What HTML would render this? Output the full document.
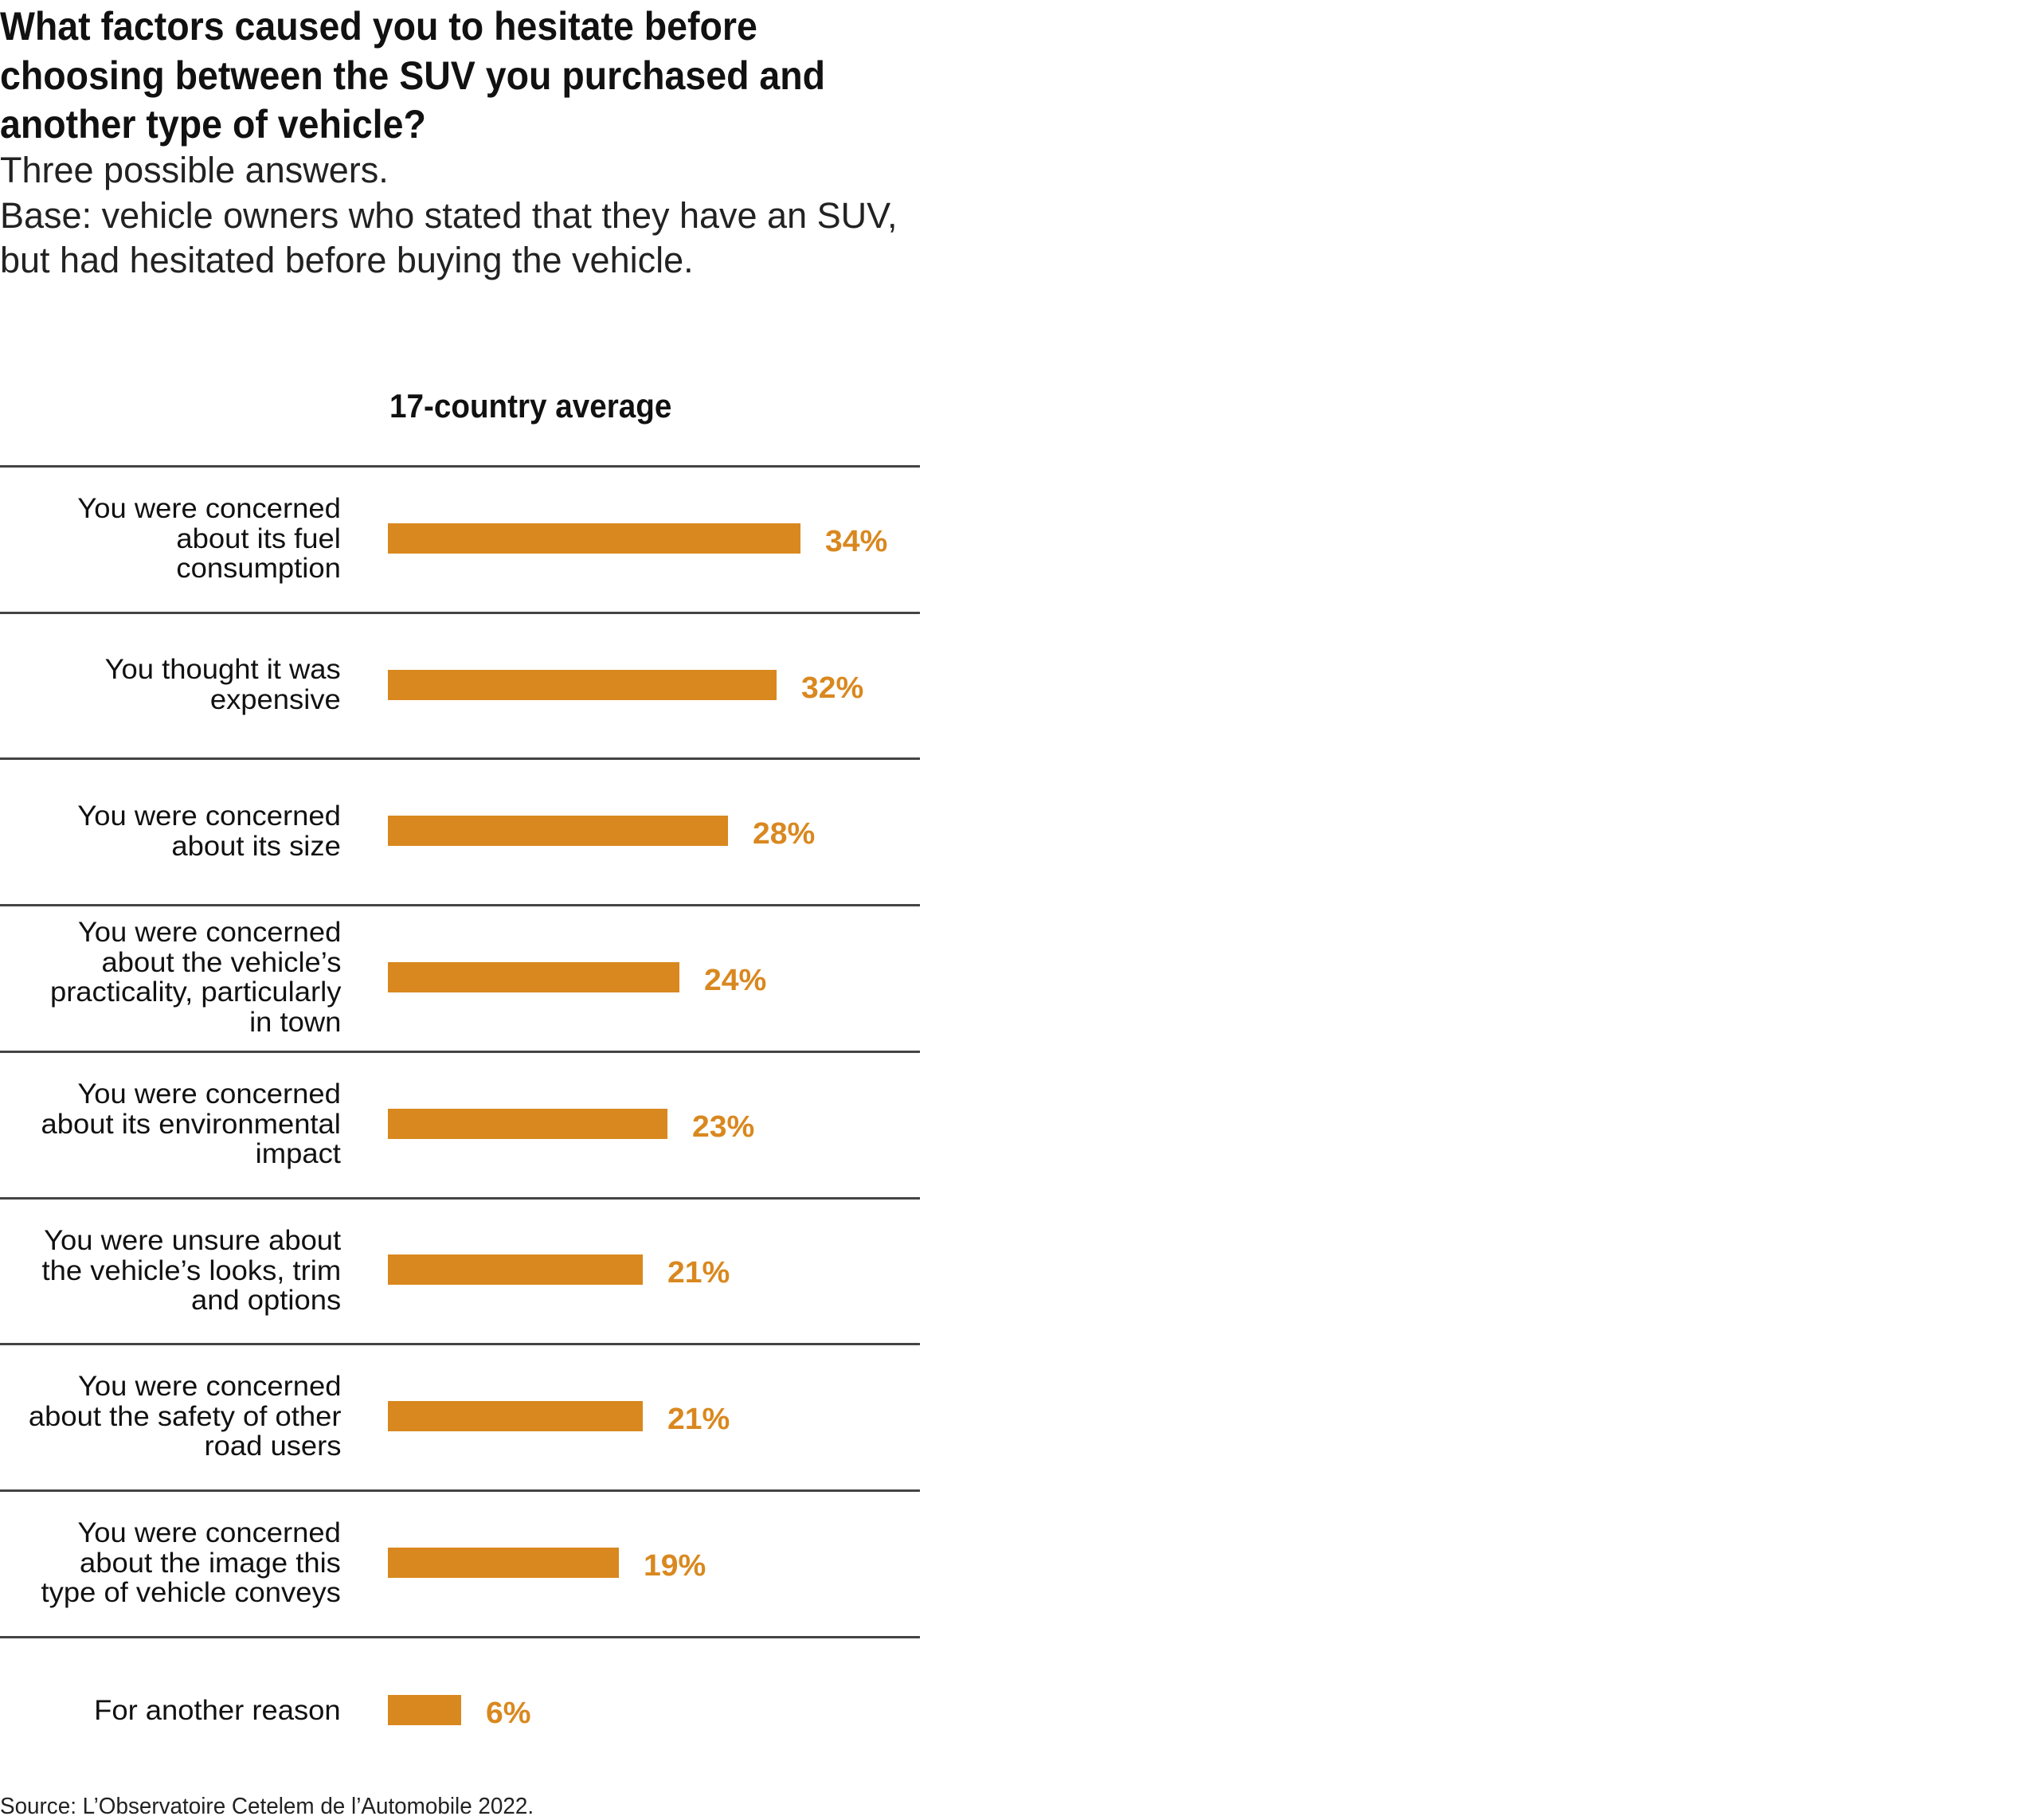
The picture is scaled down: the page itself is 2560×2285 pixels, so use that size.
<!DOCTYPE html>
<html><head><meta charset="utf-8"><style>
html,body{margin:0;padding:0;background:#fff;}
body{width:2560px;height:2284px;position:relative;overflow:hidden;font-family:"Liberation Sans",sans-serif;color:#111;}
.t{position:absolute;white-space:nowrap;transform-origin:0 0;}
.title{font-weight:bold;font-size:50px;left:0;transform:scaleX(0.93);}
.sub{font-size:45px;left:0;color:#222;font-weight:300;transform:scaleX(1.0);}
.line{position:absolute;left:0;width:1155px;height:3px;background:#444;}
.bar{position:absolute;left:487px;height:38px;background:#D9881F;}
.val{position:absolute;font-weight:bold;font-size:38px;color:#D9881F;transform-origin:0 50%;transform:scaleX(1.03);line-height:38px;}
.lab{position:absolute;right:2132px;text-align:right;font-size:35px;line-height:37.6px;transform-origin:100% 50%;transform:scaleX(1.04);white-space:nowrap;}
</style></head><body>
<div class="t title" style="top:4px">What factors caused you to hesitate before</div>
<div class="t title" style="top:66px">choosing between the SUV you purchased and</div>
<div class="t title" style="top:127px">another type of vehicle?</div>
<div class="t sub" style="top:188px">Three possible answers.</div>
<div class="t sub" style="top:245px">Base: vehicle owners who stated that they have an SUV,</div>
<div class="t sub" style="top:301px">but had hesitated before buying the vehicle.</div>
<div class="t" style="left:489px;top:486px;font-weight:bold;font-size:42px;transform:scaleX(0.92)">17-country average</div>
<div class="t" style="left:0;top:2252px;font-size:29px;color:#222;transform:scaleX(0.96)">Source: L’Observatoire Cetelem de l’Automobile 2022.</div>

<div class="line" style="top:584px"></div>
<div class="line" style="top:768px"></div>
<div class="line" style="top:951px"></div>
<div class="line" style="top:1135px"></div>
<div class="line" style="top:1319px"></div>
<div class="line" style="top:1503px"></div>
<div class="line" style="top:1686px"></div>
<div class="line" style="top:1870px"></div>
<div class="line" style="top:2054px"></div>

<div class="lab" style="top:620px">You were concerned<br>about its fuel<br>consumption</div>
<div class="bar" style="top:657px;width:518px"></div>
<div class="val" style="left:1036px;top:661px">34%</div>

<div class="lab" style="top:822px">You thought it was<br>expensive</div>
<div class="bar" style="top:841px;width:488px"></div>
<div class="val" style="left:1006px;top:845px">32%</div>

<div class="lab" style="top:1006px">You were concerned<br>about its size</div>
<div class="bar" style="top:1024px;width:427px"></div>
<div class="val" style="left:945px;top:1028px">28%</div>

<div class="lab" style="top:1152px">You were concerned<br>about the vehicle’s<br>practicality, particularly<br>in town</div>
<div class="bar" style="top:1208px;width:366px"></div>
<div class="val" style="left:884px;top:1212px">24%</div>

<div class="lab" style="top:1355px">You were concerned<br>about its environmental<br>impact</div>
<div class="bar" style="top:1392px;width:351px"></div>
<div class="val" style="left:869px;top:1396px">23%</div>

<div class="lab" style="top:1539px">You were unsure about<br>the vehicle’s looks, trim<br>and options</div>
<div class="bar" style="top:1575px;width:320px"></div>
<div class="val" style="left:838px;top:1579px">21%</div>

<div class="lab" style="top:1722px">You were concerned<br>about the safety of other<br>road users</div>
<div class="bar" style="top:1759px;width:320px"></div>
<div class="val" style="left:838px;top:1763px">21%</div>

<div class="lab" style="top:1906px">You were concerned<br>about the image this<br>type of vehicle conveys</div>
<div class="bar" style="top:1943px;width:290px"></div>
<div class="val" style="left:808px;top:1947px">19%</div>

<div class="lab" style="top:2129px">For another reason</div>
<div class="bar" style="top:2128px;width:92px"></div>
<div class="val" style="left:610px;top:2132px">6%</div>
</body></html>
